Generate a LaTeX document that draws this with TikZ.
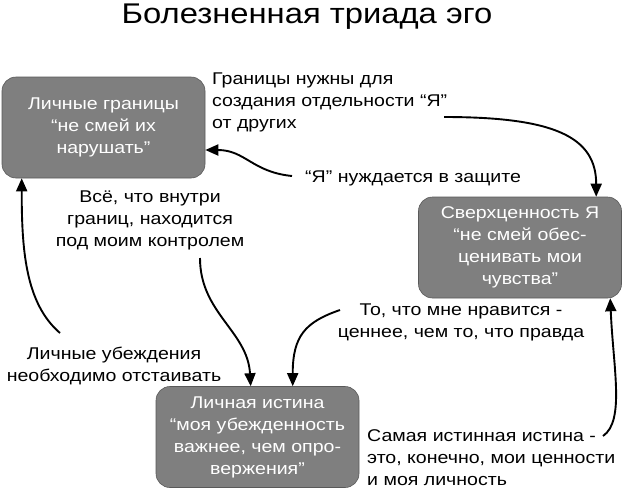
\documentclass[tikz,border=0pt]{standalone}
\usepackage{fontspec}
\setmainfont{Liberation Sans}[FakeStretch=1.15]
\usepackage{tikz}
\usetikzlibrary{arrows.meta,positioning,calc}
\usepackage{xcolor}
\definecolor{boxgray}{HTML}{7F7F7F}

\begin{document}
\begin{tikzpicture}[x=1pt,y=-1pt,
    font=\fontsize{17}{22}\selectfont,
    triad/.style={rounded corners=14pt,fill=boxgray,draw=black!65,line width=0.6pt,
      text=white,align=center,minimum width=203pt,minimum height=101pt,inner sep=0pt},
    lbl/.style={inner sep=0pt,text=black},
    link/.style={line width=1.9pt,-{Triangle[length=13pt,width=11pt]}}]
        \useasboundingbox (0,0) rectangle (623,488);
        \node[lbl,font=\fontsize{28.5}{32}\selectfont] (title) at (307,17) {Болезненная триада эго};
        % the three boxes
        \node[triad] (granicy) at (103.5,127.5) {Личные границы\\“не смей их\\нарушать”};
        \node[triad] (sverh) at (520,247.5) {Сверхценность Я\\“не смей обес-\\ценивать мои\\чувства”};
        \node[triad] (istina) at (257.5,437) {Личная истина\\“моя убежденность\\важнее, чем опро-\\вержения”};
        % labels
        \node[lbl,anchor=west,align=left] (lblSep) at (212,102) {Границы нужны для\\создания отдельности “Я”\\от других};
        \node[lbl,anchor=west] (lblDef) at (305,178) {“Я” нуждается в защите};
        \node[lbl,align=center] (lblCtrl) at (150,220) {Всё, что внутри\\границ, находится\\под моим контролем};
        \node[lbl,align=center] (lblLike) at (461,322) {То, что мне нравится -\\ценнее, чем то, что правда};
        \node[lbl,align=center] (lblBel) at (114,366) {Личные убеждения\\необходимо отстаивать};
        \node[lbl,anchor=west,align=left] (lblTrue) at (367,458) {Самая истинная истина -\\это, конечно, мои ценности\\и моя личность};
        % free ends of the arrows
        \coordinate (sepStart) at (444,117);
        \coordinate (defStart) at (292,176);
        \coordinate (ctrlStart) at (200,258);
        \coordinate (likeStart) at (340,310);
        \coordinate (belStart) at (60,333);
        \coordinate (trueStart) at (603,436);
        % arrows
        \draw[link] (sepStart) .. controls +(110,0) and +(0,-60) .. ($(sverh.north west)+(178,0)$);
        \draw[link] (defStart) .. controls +(-40,-4) and +(40,0) .. (granicy.east |- 0,150);
        \draw[link] (ctrlStart) .. controls +(0,55) and +(-3,-55) .. ($(istina.north west)+(95,0)$);
        \draw[link] (likeStart) .. controls +(-35,12) and +(0,-50) .. ($(istina.north west)+(137,0)$);
        \draw[link] (belStart) .. controls +(-35,-30) and +(0,70) .. ($(granicy.south west)+(20,0)$);
        \draw[link] (trueStart) .. controls +(22,-15) and +(3,70) .. ($(sverh.south west)+(192,0)$);
      \end{tikzpicture}
\end{document}
